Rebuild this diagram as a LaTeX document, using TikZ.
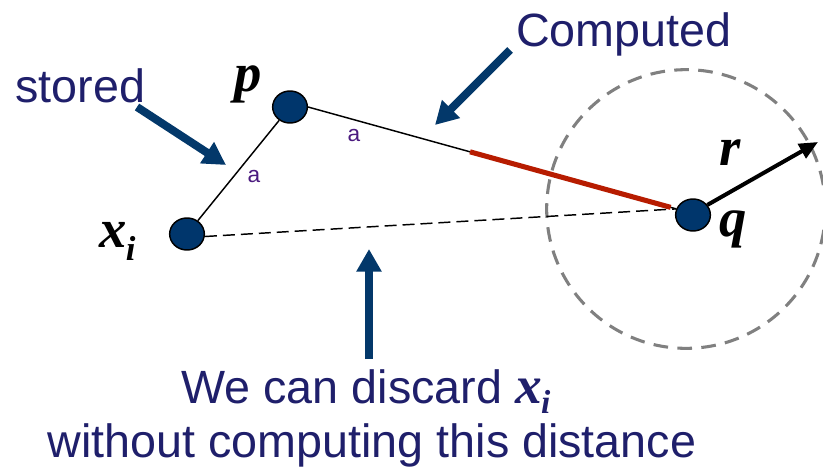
\documentclass[tikz,border=0pt]{standalone}
\usepackage{fontspec}
\setmainfont{Liberation Sans}
\newfontfamily\mathserif{Liberation Serif}
\usetikzlibrary{arrows.meta,shapes.geometric,calc}
\definecolor{txtnavy}{RGB}{31,31,107}
\definecolor{arrnavy}{RGB}{3,56,106}
\definecolor{ptfill}{RGB}{0,54,108}
\definecolor{apurple}{RGB}{75,26,127}
\definecolor{redseg}{RGB}{183,28,0}
\definecolor{circgray}{RGB}{128,128,128}
\tikzset{
  pt/.style={ellipse,draw=black,line width=1.1pt,fill=ptfill,minimum width=26pt,minimum height=24pt,inner sep=0pt},
  mlabel/.style={font=\mathserif\bfseries\itshape\fontsize{41}{41}\selectfont,inner sep=0pt},
  big/.style={font=\fontsize{35}{40}\selectfont,text=txtnavy,inner sep=0pt},
  alabel/.style={font=\fontsize{17}{18}\selectfont,text=apurple,inner sep=0pt},
  navyarrow/.style={draw=arrnavy,line width=6pt,-{Triangle[length=17pt,width=18pt]}},
  thinline/.style={draw=black,line width=1.1pt},
}
\begin{document}
\begin{tikzpicture}[x=0.75pt,y=-0.75pt]
\useasboundingbox (0,0) rectangle (823,467);
\fill[white] (0,0) rectangle (823,467);
% dashed circle
\draw[circgray,line width=2.3pt,dash pattern=on 11pt off 7pt] (686,209) circle[radius=104.5pt];
% points
\node[pt] (p) at (290,107) {};
\node[pt] (xi) at (187,234) {};
\node[pt] (q) at (693,215) {};
% connectors
\draw[thinline] (xi) -- (p);
\node[alabel] (a1) at (254,177) {a};
\draw[thinline] (p.east) -- (q.160);
\node[alabel] (a2) at (354,136) {a};
\draw[redseg,line width=3.8pt] ($(p.east)!0.44!(q.160)$) coordinate (r1) -- ($(p.east)!0.985!(q.160)$) coordinate (r2);
\draw[black,line width=1.1pt,dash pattern=on 9pt off 4.5pt] (xi.-8) -- (q.160);
% radius arrow
\coordinate (rtip) at (818,142);
\draw[black,line width=3pt,-{Triangle[length=14pt,width=12pt]}] (q.35) -- (rtip);
% math labels
\node[mlabel] (plab) at (248,84) {p};
\node[mlabel,anchor=base west] (xlab) at (99,247) {x\kern-0.5pt\raisebox{-10pt}{\fontsize{26}{26}\selectfont i}};
\node[mlabel] (qlab) at (733,229) {q};
\node[mlabel] (rlab) at (730,153) {r};
% text labels
\node[big,anchor=base west] (stored) at (15,102) {stored};
\node[big,anchor=base west] (computed) at (516,46) {Computed};
\node[big,anchor=base] (line1) at (366,403) {We can discard {\mathserif\bfseries\itshape\fontsize{40}{40}\selectfont x\kern-0.5pt\raisebox{-8pt}{\fontsize{25}{25}\selectfont i}}};
\node[big,anchor=base] (line2) at (372,457) {without computing this distance};
% navy arrows
\coordinate (s0) at (137,107);
\coordinate (s1) at (226,165);
\draw[navyarrow] (s0) -- (s1);
\coordinate (c0) at (510,50);
\coordinate (c1) at (435,125);
\draw[navyarrow] (c0) -- (c1);
\coordinate (b0) at (369,359);
\coordinate (b1) at (369,249);
\draw[navyarrow] (b0) -- (b1);
\end{tikzpicture}
\end{document}
